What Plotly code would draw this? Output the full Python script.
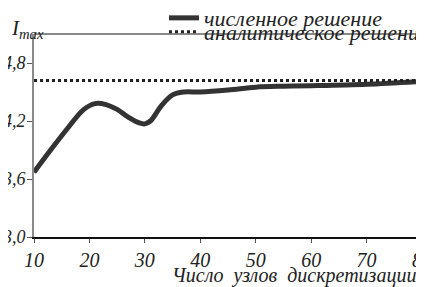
import plotly.graph_objects as go

x_nodes = [10, 13, 16, 19, 21, 23, 25, 27, 29, 30, 31, 33, 35, 37, 40, 45, 50, 55, 60, 70, 80]
i_numeric = [3.67, 3.90, 4.12, 4.32, 4.38, 4.37, 4.32, 4.24, 4.18, 4.17, 4.20, 4.36, 4.47, 4.50, 4.50, 4.52, 4.55, 4.56, 4.565, 4.58, 4.61]
x_analytic = [10, 80]
i_analytic = [4.62, 4.62]
x_ticks = [10, 20, 30, 40, 50, 60, 70, 80]
x_ticklabels = ["10", "20", "30", "40", "50", "60", "70", "80"]
y_ticks = [3.0, 3.6, 4.2, 4.8]
y_ticklabels = ["3,0", "3,6", "4,2", "4,8"]

FONT = "Liberation Serif"

# The page body has an 8px margin, so the figure is 16px smaller than the window.
fig = go.Figure()
fig.add_trace(go.Scatter(x=x_nodes, y=i_numeric, mode="lines", name="<i>численное решение</i>",
                         legend="legend", showlegend=True,
                         line=dict(color="#333333", width=5, shape="spline")))
fig.add_trace(go.Scatter(x=x_analytic, y=i_analytic, mode="lines", name="<i>аналитическое решение</i>",
                         legend="legend2", showlegend=True,
                         line=dict(color="#222222", width=3, dash="dot")))

leg_common = dict(xanchor="left", yanchor="top", yref="paper", visible=True,
                  bgcolor="rgba(0,0,0,0)", font=dict(size=22, family=FONT, color="#222222"),
                  itemwidth=30)

fig.update_layout(
    width=416, height=279,
    showlegend=True,
    margin=dict(l=26, r=2, t=26, b=50, autoexpand=False),
    paper_bgcolor="white", plot_bgcolor="white",
    font=dict(family=FONT, size=19, color="#222222"),
    legend=dict(x=0.335, y=1.182, **leg_common),
    legend2=dict(x=0.335, y=1.113, **leg_common),
    xaxis=dict(range=[10, 80], tickvals=x_ticks, ticktext=["<i>%s</i>" % t for t in x_ticklabels],
               showgrid=False, zeroline=False, ticklabeloverflow="allow",
               showline=True, linecolor="#111111", linewidth=1.5,
               ticks="outside", ticklen=4, tickcolor="#555555",
               tickfont=dict(family=FONT, size=20)),
    yaxis=dict(range=[3.0, 5.1], tickvals=y_ticks, ticktext=["<i>%s</i>" % t for t in y_ticklabels],
               showgrid=False, zeroline=False, ticklabeloverflow="allow",
               showline=True, linecolor="#8a8a8a", linewidth=2, mirror=True,
               ticks="outside", ticklen=5, tickcolor="#555555", ticklabelstandoff=-2,
               tickfont=dict(family=FONT, size=18)),
    shapes=[dict(type="line", xref="paper", yref="paper", x0=0, x1=1, y0=1, y1=1,
                 line=dict(color="#8a8a8a", width=2))],
    annotations=[
        dict(text="<i>I</i><sub><i>max</i></sub>", xref="paper", yref="paper", x=-0.065, y=1.025,
             xanchor="left", yanchor="middle", showarrow=False,
             font=dict(family=FONT, size=21)),
        dict(text="<i>Число  узлов  дискретизации</i>", xref="paper", yref="paper", x=0.99, y=-0.19,
             xanchor="right", yanchor="middle", showarrow=False,
             font=dict(family=FONT, size=20)),
    ],
)

fig.write_html("out.html")
